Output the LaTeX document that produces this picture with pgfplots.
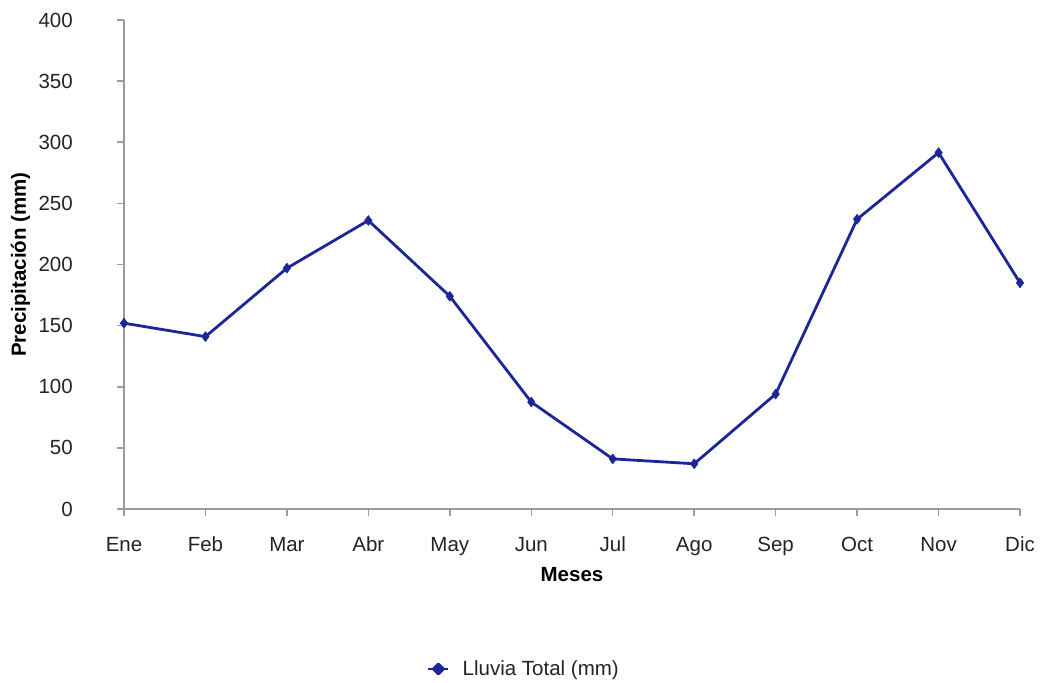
\documentclass[border=0pt]{standalone}
\usepackage{pgfplots}
\pgfplotsset{compat=1.18}
\usepackage{fontspec}
\setmainfont{Liberation Sans}
\definecolor{lluvia}{RGB}{28,38,150}
\definecolor{ejes}{RGB}{155,155,155}
\definecolor{texto}{RGB}{35,35,35}
\newcommand{\fs}{\fontsize{20.5}{24}\selectfont}
\begin{document}
\begin{tikzpicture}
\path[use as bounding box] (-124pt,-173pt) rectangle (916pt,509pt);
\begin{axis}[
  at={(0pt,0pt)}, anchor=south west,
  scale only axis, width=896pt, height=489pt,
  xmin=0, xmax=11, ymin=0, ymax=400,
  axis x line=bottom, axis y line=left,
  axis line style={-, ejes, line width=1.5pt},
  tick align=outside, major tick length=7pt,
  tick style={ejes, line width=1.5pt},
  xtick={0,...,11},
  xticklabels={Ene,Feb,Mar,Abr,May,Jun,Jul,Ago,Sep,Oct,Nov,Dic},
  ytick={0,50,...,400},
  /pgf/number format/assume math mode=true,
  every tick label/.append style={font=\fs, text=texto, inner sep=0pt},
  xticklabel style={anchor=north, text height=14.7pt, text depth=0pt, yshift=-21pt},
  yticklabel style={anchor=east, xshift=-44pt},
  xlabel={Meses}, ylabel={Precipitación (mm)},
  label style={font=\bfseries\fs, text=black},
  xlabel style={at={(axis description cs:0.5,0)}, anchor=center, yshift=-66pt},
  ylabel style={at={(axis description cs:0,0.5)}, anchor=center, yshift=103.5pt},
  legend style={at={(axis description cs:0.3382,-0.3272)}, anchor=west,
    draw=none, fill=none, font=\fs, text=texto, inner sep=0pt,
    /tikz/every odd column/.append style={column sep=11pt}},
  legend cell align=left,
  legend image code/.code={
    \draw[lluvia, line width=2.5pt] (0pt,0pt) -- (20pt,0pt);
    \fill[lluvia] (10pt,5pt) -- (15pt,0pt) -- (10pt,-5pt) -- (5pt,0pt) -- cycle;
  },
  clip=false,
]
\addplot[lluvia, line width=2.8pt, line join=round, mark=diamond*, mark size=5pt,
  mark options={fill=lluvia, line width=0.5pt}]
  coordinates {
    (0,152) (1,141) (2,197) (3,236) (4,174) (5,87.5)
    (6,41) (7,37) (8,94) (9,237) (10,291.5) (11,185)
  };
\addlegendentry{Lluvia Total (mm)}
\end{axis}
\end{tikzpicture}
\end{document}
